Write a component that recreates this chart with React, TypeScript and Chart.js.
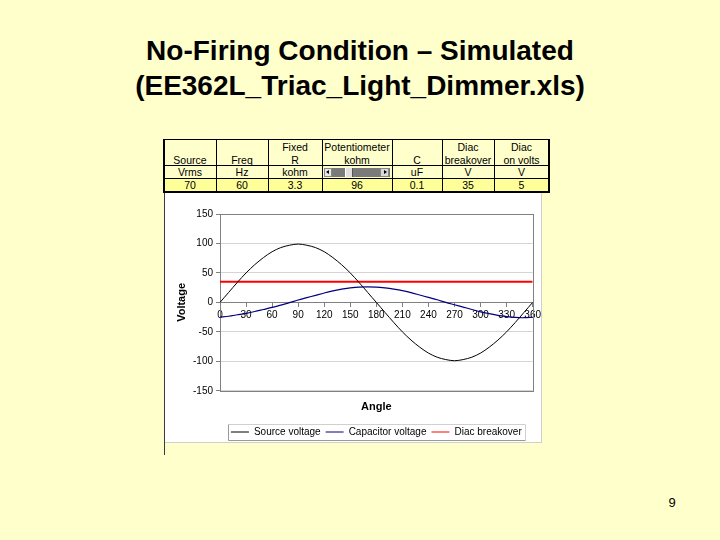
import React, { useEffect, useRef } from "react";
import { Chart, registerables } from "chart.js";

Chart.register(...registerables);

const FONT = '"Liberation Sans", Arial, Helvetica, sans-serif';

// ---- chart data ----
const angles = [0, 10, 20, 30, 40, 50, 60, 70, 80, 90, 100, 110, 120, 130, 140, 150, 160, 170, 180, 190, 200, 210, 220, 230, 240, 250, 260, 270, 280, 290, 300, 310, 320, 330, 340, 350, 360];
const sourceVoltage = [0, 17, 34, 50, 64, 76, 86, 93, 97, 99, 97, 93, 86, 76, 64, 50, 34, 17, 0, -17, -34, -50, -64, -76, -86, -93, -97, -99, -97, -93, -86, -76, -64, -50, -34, -17, 0];
const capacitorVoltage = [-25, -23.5, -21, -18.5, -15.5, -12, -8.5, -4.5, -0.5, 4, 8, 12, 16, 19.5, 22.5, 24.5, 26, 26.5, 26, 24.5, 22.5, 20, 16.5, 12.5, 8.5, 4.5, 0, -4, -8, -12, -16, -19, -22, -24, -25.5, -26, -25];
const diacAngles = [0, 360];
const diacBreakover = [35, 35];
const seriesNames = ["Source voltage", "Capacitor voltage", "Diac breakover"];
const seriesColors = ["#000000", "#000080", "#FF0000"];
const yMin = -150, yMax = 150, yStep = 50;
const xMin = 0, xMax = 360, xStep = 30;

// ---- table data ----
const headerLine1 = ["", "", "Fixed", "Potentiometer", "", "Diac", "Diac"];
const headerLine2 = ["Source", "Freq", "R", "kohm", "C", "breakover", "on volts"];
const unitLabels = ["Vrms", "Hz", "kohm", "", "uF", "V", "V"];
const tableValues = ["70", "60", "3.3", "96", "0.1", "35", "5"];

const colEdges = [164, 216, 268, 322, 392, 442, 494, 549];

const frame = {
  id: "frame",
  beforeDatasetsDraw(chart: any) {
    const { ctx, chartArea } = chart;
    ctx.save();
    ctx.strokeStyle = "#808080";
    ctx.lineWidth = 1;
    ctx.strokeRect(Math.round(chartArea.left) + 0.5, Math.round(chartArea.top) + 0.5, Math.round(chartArea.right - chartArea.left), Math.round(chartArea.bottom - chartArea.top));
    ctx.restore();
  },
  afterDraw(chart: any) {
    const lg = chart.legend;
    if (!lg || !lg.legendHitBoxes || !lg.legendHitBoxes.length) return;
    const boxes = lg.legendHitBoxes;
    let l = Infinity, r = -Infinity, cy = 0;
    boxes.forEach((b: any) => {
      l = Math.min(l, b.left);
      r = Math.max(r, b.left + b.width);
      cy = b.top + b.height / 2;
    });
    const { ctx } = chart;
    ctx.save();
    ctx.lineWidth = 1;
    const x0 = Math.round(l - 3) + 0.5, x1 = Math.round(r + 3) + 0.5;
    const y0 = Math.round(cy - 8) + 0.5, y1 = Math.round(cy + 8) + 0.5;
    ctx.strokeStyle = "#d0d0d0";
    ctx.beginPath();
    ctx.moveTo(x0, y0); ctx.lineTo(x1, y0); ctx.lineTo(x1, y1);
    ctx.stroke();
    ctx.strokeStyle = "#9a9a9a";
    ctx.beginPath();
    ctx.moveTo(x0, y0); ctx.lineTo(x0, y1); ctx.lineTo(x1, y1);
    ctx.stroke();
    ctx.restore();
  },
};

function VoltageChart() {
  const ref = useRef<HTMLCanvasElement | null>(null);
  useEffect(() => {
    if (!ref.current) return;
    const datasets = [
      {
        label: seriesNames[0],
        data: angles.map((a, i) => ({ x: a, y: sourceVoltage[i] })),
        borderColor: seriesColors[0],
        borderWidth: 1,
        pointRadius: 0,
        tension: 0.3,
        fill: false,
      },
      {
        label: seriesNames[1],
        data: angles.map((a, i) => ({ x: a, y: capacitorVoltage[i] })),
        borderColor: seriesColors[1],
        borderWidth: 1.2,
        pointRadius: 0,
        tension: 0.3,
        fill: false,
      },
      {
        label: seriesNames[2],
        data: diacAngles.map((a, i) => ({ x: a, y: diacBreakover[i] })),
        borderColor: seriesColors[2],
        borderWidth: 2,
        pointRadius: 0,
        fill: false,
      },
    ];
    const chart = new Chart(ref.current, {
      type: "line",
      data: { datasets },
      options: {
        animation: false,
        responsive: false,
        events: [],
        layout: { padding: { left: 10, top: 20, right: 5, bottom: 0 } },
        scales: {
          x: {
            type: "linear",
            position: { y: 0 } as any,
            min: xMin,
            max: xMax,
            ticks: { stepSize: xStep, autoSkip: false, maxRotation: 0, color: "#000", font: { family: FONT, size: 10 }, padding: 3 },
            grid: { drawOnChartArea: false, tickLength: 4, color: "#808080", tickColor: "#808080" },
            border: { color: "#808080" },
          },
          y: {
            min: yMin,
            max: yMax,
            ticks: { stepSize: yStep, color: "#000", font: { family: FONT, size: 10 }, padding: 3 },
            grid: { color: "#d4d4d4", tickLength: 4, tickColor: "#808080" },
            border: { color: "#808080" },
            title: { display: true, text: "Voltage", color: "#000", font: { family: FONT, size: 11, weight: "bold" }, padding: 0 },
            afterFit: (s: any) => { s.width = 45; },
          } as any,
        },
        plugins: {
          tooltip: { enabled: false },
          title: {
            display: true,
            text: "Angle",
            position: "bottom",
            fullSize: false,
            weight: 500,
            color: "#000",
            font: { family: FONT, size: 11, weight: "bold" },
            padding: { top: 10, bottom: 8 },
          } as any,
          legend: {
            position: "bottom",
            fullSize: false,
            weight: 1000,
            labels: {
              usePointStyle: true,
              pointStyle: "line",
              pointStyleWidth: 18,
              padding: 5,
              color: "#000",
              font: { family: FONT, size: 10 },
              generateLabels: (c: any) =>
                (Chart.defaults.plugins.legend.labels as any).generateLabels(c).map((l: any) => ({ ...l, lineWidth: 1 })),
            },
          } as any,
        },
      },
      plugins: [frame],
    });
    return () => chart.destroy();
  }, []);
  return <canvas ref={ref} width={379} height={253} style={{ position: "absolute", left: 165, top: 194, width: 379, height: 253 }} />;
}

function Table() {
  const cells: React.ReactNode[] = [];
  const txt: React.CSSProperties = { position: "absolute", textAlign: "center", fontSize: 10.5, lineHeight: "12px", whiteSpace: "nowrap", color: "#000" };
  for (let i = 0; i < 7; i++) {
    const l = colEdges[i];
    const w = colEdges[i + 1] - colEdges[i];
    cells.push(<div key={"h1" + i} style={{ ...txt, left: l, width: w, top: 141, height: 12 }}>{headerLine1[i]}</div>);
    cells.push(<div key={"h2" + i} style={{ ...txt, left: l, width: w, top: 153.5, height: 12 }}>{headerLine2[i]}</div>);
    cells.push(<div key={"u" + i} style={{ ...txt, left: l, width: w, top: 166, height: 12 }}>{unitLabels[i]}</div>);
    cells.push(<div key={"v" + i} style={{ ...txt, left: l, width: w, top: 178.5, height: 12 }}>{tableValues[i]}</div>);
    if (i > 0) {
      cells.push(<div key={"vl" + i} style={{ position: "absolute", left: l, top: 140, width: 1, height: 52, background: "#000" }} />);
    }
  }
  return (
    <>
      <div style={{ position: "absolute", left: 164, top: 178, width: 385, height: 14, background: "#FFFF99" }} />
      <div style={{ position: "absolute", left: 164, top: 165, width: 385, height: 1, background: "#000" }} />
      <div style={{ position: "absolute", left: 164, top: 178, width: 385, height: 1, background: "#000" }} />
      <div style={{ position: "absolute", left: 163, top: 139, width: 387, height: 54, border: "1px solid #000", borderLeftWidth: 2, borderRightWidth: 2, borderBottomWidth: 2, boxSizing: "border-box" }} />
      {cells}
      {/* scrollbar of the potentiometer */}
      <div style={{ position: "absolute", left: 324, top: 167.5, width: 66, height: 9, background: "#7a7a7a" }} />
      <div style={{ position: "absolute", left: 324, top: 167.5, width: 8, height: 9, background: "#e8e8e8", border: "1px solid #888", boxSizing: "border-box" }} />
      <div style={{ position: "absolute", left: 326, top: 170, width: 0, height: 0, borderTop: "2px solid transparent", borderBottom: "2px solid transparent", borderRight: "3px solid #000" }} />
      <div style={{ position: "absolute", left: 345, top: 167.5, width: 8, height: 9, background: "#e0e0e0", borderLeft: "1px solid #fff", borderRight: "1px solid #555", boxSizing: "border-box" }} />
      <div style={{ position: "absolute", left: 380, top: 167.5, width: 9, height: 9, background: "#d8d8d8", border: "1px solid #888", boxSizing: "border-box" }} />
      <div style={{ position: "absolute", left: 384, top: 170, width: 0, height: 0, borderTop: "2px solid transparent", borderBottom: "2px solid transparent", borderLeft: "3px solid #000" }} />
    </>
  );
}

export default function App() {
  return (
    <div style={{ position: "fixed", left: 0, top: 0, width: 720, height: 540, background: "#FFFFCC", fontFamily: FONT, overflow: "hidden" }}>
      <div style={{ position: "absolute", left: 0, top: 33, width: 720, textAlign: "center", fontSize: 28, fontWeight: "bold", lineHeight: "35px", color: "#000" }}>
        <div>No-Firing Condition – Simulated</div>
        <div>(EE362L_Triac_Light_Dimmer.xls)</div>
      </div>
      <div style={{ position: "absolute", left: 164, top: 140, width: 1, height: 315, background: "#3a3a3a" }} />
      <div style={{ position: "absolute", left: 165, top: 193, width: 377, height: 250, background: "#fff", borderRight: "1px solid #cfcfcf", borderBottom: "1px solid #cfcfcf", boxSizing: "border-box" }} />
      <Table />
      <VoltageChart />
      <div style={{ position: "absolute", left: 660, top: 494, width: 24, textAlign: "center", fontSize: 13, lineHeight: "18px", color: "#000" }}>9</div>
    </div>
  );
}
